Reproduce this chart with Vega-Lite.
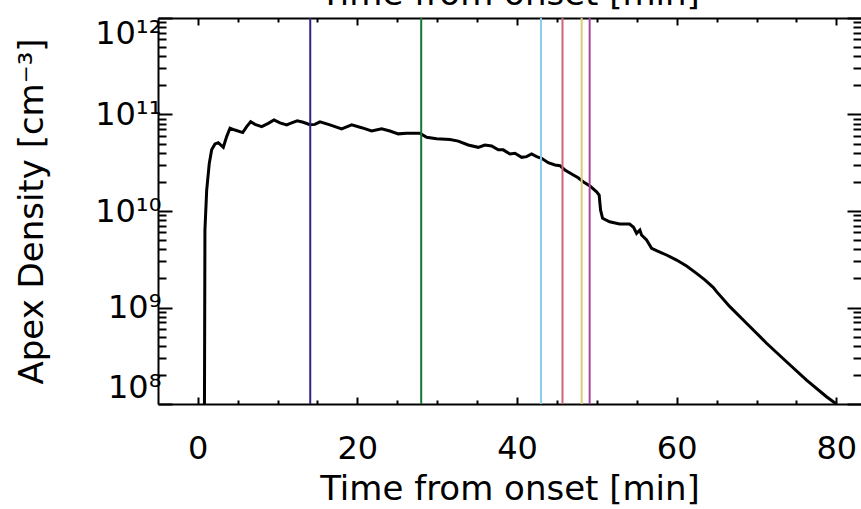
{
  "$schema": "https://vega.github.io/schema/vega-lite/v6.json",
  "width": 703,
  "height": 386,
  "autosize": "none",
  "padding": {"left": 158, "top": 18, "right": 0, "bottom": 105},
  "background": "white",
  "config": {
    "view": {"stroke": null},
    "font": "DejaVu Sans",
    "axis": {
      "grid": false,
      "domainColor": "black",
      "domainWidth": 2,
      "tickColor": "black",
      "tickWidth": 2,
      "labelColor": "black",
      "titleColor": "black",
      "titleFontWeight": "normal",
      "labelFontSize": 32,
      "titleFontSize": 34
    }
  },
  "datasets": {
    "curve": [
      {"t": 0.85, "n": 1.0e8}, {"t": 0.91, "n": 6.4e9}, {"t": 1.13, "n": 1.65e10}, {"t": 1.45, "n": 3.1e10},
      {"t": 1.75, "n": 4.3e10}, {"t": 2.17, "n": 4.95e10}, {"t": 2.58, "n": 5.1e10}, {"t": 3.21, "n": 4.57e10},
      {"t": 3.63, "n": 5.9e10}, {"t": 4.05, "n": 7.2e10}, {"t": 4.67, "n": 6.9e10}, {"t": 5.64, "n": 6.5e10},
      {"t": 6.14, "n": 7.5e10}, {"t": 6.64, "n": 8.4e10}, {"t": 7.18, "n": 7.9e10}, {"t": 8.02, "n": 7.5e10},
      {"t": 8.84, "n": 8.1e10}, {"t": 9.56, "n": 8.8e10}, {"t": 10.31, "n": 8.2e10}, {"t": 11.15, "n": 7.8e10},
      {"t": 11.77, "n": 8.2e10}, {"t": 12.47, "n": 8.6e10}, {"t": 13.22, "n": 8.3e10}, {"t": 14.06, "n": 7.85e10},
      {"t": 14.69, "n": 7.9e10}, {"t": 15.32, "n": 8.4e10}, {"t": 16.57, "n": 7.8e10}, {"t": 18.03, "n": 7.1e10},
      {"t": 19.29, "n": 7.8e10}, {"t": 20.54, "n": 7.3e10}, {"t": 21.79, "n": 6.75e10}, {"t": 23.04, "n": 7.1e10},
      {"t": 24.08, "n": 6.75e10}, {"t": 25.12, "n": 6.3e10}, {"t": 26.17, "n": 6.4e10}, {"t": 27.84, "n": 6.4e10},
      {"t": 28.68, "n": 5.8e10}, {"t": 29.93, "n": 5.6e10}, {"t": 31.6, "n": 5.5e10}, {"t": 32.64, "n": 5.3e10},
      {"t": 33.89, "n": 4.83e10}, {"t": 35.14, "n": 4.57e10}, {"t": 35.98, "n": 4.83e10}, {"t": 36.82, "n": 4.72e10},
      {"t": 37.65, "n": 4.3e10}, {"t": 38.27, "n": 4.3e10}, {"t": 39.11, "n": 3.9e10}, {"t": 39.74, "n": 3.96e10},
      {"t": 40.58, "n": 3.6e10}, {"t": 41.2, "n": 3.66e10}, {"t": 41.83, "n": 3.9e10}, {"t": 42.46, "n": 3.66e10},
      {"t": 43.08, "n": 3.52e10}, {"t": 43.91, "n": 3.17e10}, {"t": 44.75, "n": 3.0e10}, {"t": 45.38, "n": 2.95e10},
      {"t": 46.0, "n": 2.66e10}, {"t": 46.84, "n": 2.42e10}, {"t": 47.66, "n": 2.21e10}, {"t": 48.29, "n": 2.01e10},
      {"t": 49.13, "n": 1.82e10}, {"t": 49.97, "n": 1.58e10}, {"t": 50.29, "n": 1.46e10}, {"t": 50.47, "n": 1.02e10},
      {"t": 50.72, "n": 8.4e9}, {"t": 51.6, "n": 7.74e9}, {"t": 52.85, "n": 7.33e9}, {"t": 54.1, "n": 7.33e9},
      {"t": 54.6, "n": 6.78e9}, {"t": 54.98, "n": 5.87e9}, {"t": 55.39, "n": 6.36e9}, {"t": 55.6, "n": 5.64e9},
      {"t": 56.23, "n": 5.0e9}, {"t": 56.86, "n": 4.1e9}, {"t": 57.48, "n": 3.88e9}, {"t": 58.73, "n": 3.5e9},
      {"t": 59.99, "n": 3.1e9}, {"t": 61.24, "n": 2.69e9}, {"t": 62.49, "n": 2.26e9}, {"t": 63.53, "n": 1.93e9},
      {"t": 64.57, "n": 1.62e9}, {"t": 65.0, "n": 1.46e9}, {"t": 66.66, "n": 1.02e9}, {"t": 68.75, "n": 6.86e8},
      {"t": 71.26, "n": 4.26e8}, {"t": 73.76, "n": 2.74e8}, {"t": 76.27, "n": 1.77e8}, {"t": 78.77, "n": 1.19e8},
      {"t": 80.0, "n": 1.0e8}
    ],
    "events": [
      {"t": 14.1, "id": "e1"}, {"t": 28.0, "id": "e2"}, {"t": 43.0, "id": "e3"},
      {"t": 45.7, "id": "e4"}, {"t": 48.1, "id": "e5"}, {"t": 49.1, "id": "e6"}
    ]
  },
  "resolve": {"axis": {"x": "independent", "y": "independent"}},
  "layer": [
    {
      "data": {"name": "curve"},
      "mark": {"type": "line", "color": "black", "strokeWidth": 3, "clip": true},
      "encoding": {
        "x": {"field": "t", "type": "quantitative",
          "scale": {"domain": [-4.97, 83.09], "nice": false, "zero": false},
          "axis": {"orient": "bottom", "values": [0, 20, 40, 60, 80], "tickSize": -7, "labelPadding": 36,
            "labelFlush": false, "title": "Time from onset [min]", "titlePadding": 8}},
        "y": {"field": "n", "type": "quantitative",
          "scale": {"type": "log", "domain": [1e8, 1e12], "nice": false},
          "axis": {"orient": "left", "values": [1e8, 1e9, 1e10, 1e11, 1e12], "tickSize": -14, "labelPadding": 11,
            "labelFlush": true,
            "labelExpr": "datum.value >= 5e11 ? '10¹²' : datum.value >= 5e10 ? '10¹¹' : datum.value >= 5e9 ? '10¹⁰' : datum.value >= 5e8 ? '10⁹' : '10⁸'",
            "title": "Apex Density [cm⁻³]", "titlePadding": 45}}
      }
    },
    {
      "data": {"name": "events"},
      "mark": {"type": "rule", "strokeWidth": 2},
      "encoding": {
        "x": {"field": "t", "type": "quantitative",
          "scale": {"domain": [-4.97, 83.09], "nice": false, "zero": false}, "axis": null},
        "color": {"field": "id", "type": "nominal", "legend": null,
          "scale": {"domain": ["e1", "e2", "e3", "e4", "e5", "e6"],
            "range": ["#332288", "#117733", "#88CCEE", "#CC6677", "#DDCC77", "#AA4499"]}}
      }
    },
    {
      "data": {"name": "curve"},
      "mark": {"type": "point", "opacity": 0},
      "encoding": {
        "x": {"field": "t", "type": "quantitative",
          "scale": {"domain": [-4.97, 83.09], "nice": false, "zero": false},
          "axis": {"orient": "bottom", "values": [5, 10, 15, 25, 30, 35, 45, 50, 55, 65, 70, 75], "tickSize": -4,
            "labels": false, "domain": false, "title": null}},
        "y": {"field": "n", "type": "quantitative",
          "scale": {"type": "log", "domain": [1e8, 1e12], "nice": false},
          "axis": {"orient": "left", "tickSize": -8, "labels": false, "domain": false, "title": null,
            "values": [2e8, 3e8, 4e8, 5e8, 6e8, 7e8, 8e8, 9e8, 2e9, 3e9, 4e9, 5e9, 6e9, 7e9, 8e9, 9e9, 2e10, 3e10, 4e10, 5e10, 6e10, 7e10, 8e10, 9e10, 2e11, 3e11, 4e11, 5e11, 6e11, 7e11, 8e11, 9e11]}}
      }
    },
    {
      "data": {"name": "curve"},
      "mark": {"type": "point", "opacity": 0},
      "encoding": {
        "x": {"field": "t", "type": "quantitative",
          "scale": {"domain": [-4.97, 83.09], "nice": false, "zero": false},
          "axis": {"orient": "top", "values": [0, 20, 40, 60, 80], "tickSize": -7, "labels": false,
            "title": "Time from onset [min]", "titlePadding": 6}},
        "y": {"field": "n", "type": "quantitative",
          "scale": {"type": "log", "domain": [1e8, 1e12], "nice": false},
          "axis": {"orient": "right", "values": [1e8, 1e9, 1e10, 1e11, 1e12], "tickSize": -14, "labels": false,
            "domain": false, "title": null}}
      }
    },
    {
      "data": {"name": "curve"},
      "mark": {"type": "point", "opacity": 0},
      "encoding": {
        "x": {"field": "t", "type": "quantitative",
          "scale": {"domain": [-4.97, 83.09], "nice": false, "zero": false},
          "axis": {"orient": "top", "values": [5, 10, 15, 25, 30, 35, 45, 50, 55, 65, 70, 75], "tickSize": -4,
            "labels": false, "domain": false, "title": null}},
        "y": {"field": "n", "type": "quantitative",
          "scale": {"type": "log", "domain": [1e8, 1e12], "nice": false},
          "axis": {"orient": "right", "tickSize": -8, "labels": false, "domain": false, "title": null,
            "values": [2e8, 3e8, 4e8, 5e8, 6e8, 7e8, 8e8, 9e8, 2e9, 3e9, 4e9, 5e9, 6e9, 7e9, 8e9, 9e9, 2e10, 3e10, 4e10, 5e10, 6e10, 7e10, 8e10, 9e10, 2e11, 3e11, 4e11, 5e11, 6e11, 7e11, 8e11, 9e11]}}
      }
    }
  ]
}
